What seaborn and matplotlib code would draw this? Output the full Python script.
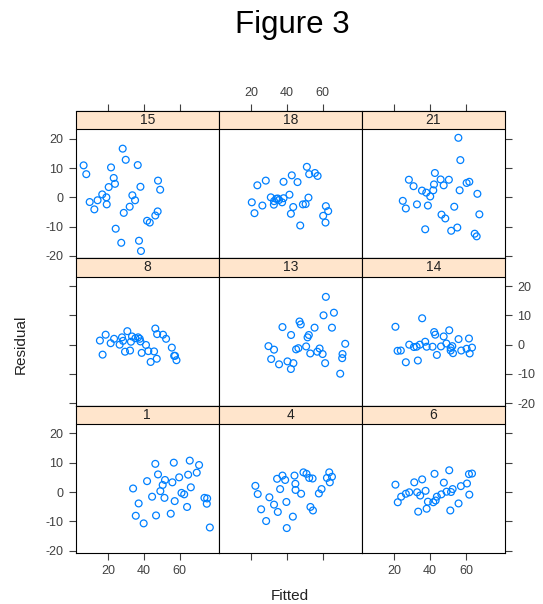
import pandas as pd
import numpy as np
import matplotlib
matplotlib.use("Agg")
import matplotlib.pyplot as plt
import seaborn as sns
from matplotlib.patches import Rectangle

# =======================
# Data
# =======================
fitted_15 = [28.2, 29.9, 6.4, 7.9, 21.7, 36.6, 23.2, 23.9, 20.4, 47.9, 49.1, 38.1, 16.8, 19.1, 33.6,
             35.1, 9.8, 14.2, 19.3, 12.4, 32.1, 28.8, 47.7, 46.4, 41.8, 43.3, 24.3, 27.4, 37.3, 38.4]
resid_15 = [16.6, 12.8, 10.9, 7.9, 10.2, 11.0, 6.6, 4.6, 3.5, 5.7, 2.6, 3.6, 1.0, 0.0, 0.7,
            -1.0, -1.6, -1.0, -2.4, -4.1, -3.2, -5.3, -4.8, -6.2, -8.0, -8.6, -10.7, -15.5, -14.8, -18.3]

fitted_18 = [51.1, 52.4, 55.6, 57.1, 42.7, 45.9, 38.1, 28.2, 23.5, 41.4, 52.0, 31.0, 34.0, 35.6, 32.8, 37.3,
             20.4, 26.3, 32.7, 43.5, 48.9, 50.4, 61.7, 63.0, 21.9, 42.2, 60.2, 61.5, 47.4, 38.1, 34.9]
resid_18 = [10.4, 7.9, 8.3, 7.3, 7.5, 5.2, 5.3, 5.7, 4.1, 0.9, -0.1, 0.0, -0.5, -0.9, -1.3, -1.7,
            -1.7, -2.8, -2.5, -3.3, -2.4, -2.3, -3.0, -4.7, -5.4, -5.6, -6.3, -8.6, -9.6, -0.3, -0.4]

fitted_21 = [55.8, 56.9, 42.7, 28.2, 45.9, 50.5, 30.8, 42.2, 47.6, 60.4, 61.9, 35.5, 37.9, 41.8, 56.5,
             66.4, 40.1, 24.8, 26.5, 32.7, 38.8, 53.5, 46.4, 48.5, 67.5, 37.3, 51.8, 55.2, 64.9, 66.0]
resid_21 = [20.3, 12.7, 8.3, 6.0, 6.1, 6.0, 3.8, 4.4, 4.1, 4.9, 5.3, 2.3, 1.6, 2.4, 2.4,
            1.2, 0.3, -1.2, -3.8, -2.4, -2.8, -3.2, -5.9, -7.2, -5.8, -10.9, -11.4, -10.3, -12.4, -13.3]

fitted_8 = [15.5, 18.7, 17.0, 21.5, 23.4, 26.5, 27.8, 28.4, 30.8, 29.5, 32.3, 32.8, 33.4, 35.3, 36.8, 37.7,
            38.1, 38.8, 41.2, 42.5, 43.8, 45.7, 47.2, 46.4, 47.4, 50.7, 52.4, 55.6, 56.9, 57.4, 58.2]
resid_8 = [1.4, 3.4, -3.4, 0.5, 2.0, 0.0, 2.5, 1.3, 4.6, -2.4, -2.0, 1.0, 2.8, 2.2, 2.5, 2.0,
           1.1, -2.8, -0.1, -2.2, -5.9, -2.3, -4.8, 5.5, 3.6, 3.4, 2.0, -1.0, -3.8, -3.8, -5.3]

fitted_13 = [61.7, 66.2, 60.4, 37.5, 47.0, 47.7, 55.4, 65.1, 42.3, 52.2, 51.5, 29.7, 32.8, 45.1, 46.4,
             50.7, 58.2, 56.9, 53.0, 59.9, 72.5, 71.0, 70.8, 31.2, 35.6, 40.3, 43.6, 42.2, 61.3, 69.7]
resid_13 = [16.3, 10.9, 10.0, 6.0, 7.9, 6.9, 5.8, 5.8, 3.3, 3.3, 2.5, -0.5, -1.7, -1.6, -1.2,
            -0.6, -1.3, -2.4, -3.0, -3.2, 0.3, -3.2, -4.6, -4.9, -6.7, -5.7, -6.3, -8.3, -6.3, -9.9]

fitted_14 = [20.7, 35.6, 42.3, 42.9, 50.7, 47.6, 37.3, 28.4, 31.0, 32.5, 34.3, 38.1, 41.4, 46.1, 49.1,
             51.5, 52.4, 52.8, 55.9, 57.4, 60.4, 61.7, 63.4, 62.1, 43.8, 33.2, 26.5, 21.9, 23.7, 51.5]
resid_14 = [6.1, 9.0, 4.3, 3.4, 4.9, 2.8, 1.0, 0.0, -0.8, -0.7, 0.0, -0.7, -0.7, -0.6, 0.4,
            -1.1, -0.5, -2.9, 1.9, -2.0, -1.4, 2.1, -1.0, -3.0, -3.5, -5.4, -6.0, -2.1, -2.0, -2.0]

fitted_1 = [46.4, 56.7, 65.6, 70.8, 47.9, 64.7, 69.5, 59.7, 51.8, 55.9, 41.8, 50.5, 34.0, 49.2, 61.0,
            62.5, 66.2, 44.6, 51.5, 57.2, 73.8, 75.3, 75.1, 37.1, 35.5, 46.8, 55.0, 64.1, 39.9, 76.8]
resid_1 = [9.6, 10.0, 10.7, 9.2, 6.0, 5.9, 6.6, 5.0, 4.1, 3.3, 3.7, 2.4, 1.2, 0.3, -0.3,
           -0.8, 1.6, -1.6, -2.0, -3.1, -2.0, -2.2, -4.0, -3.9, -8.1, -8.0, -7.4, -5.1, -10.7, -12.1]

fitted_4 = [63.6, 65.1, 62.3, 63.9, 49.2, 50.9, 52.4, 54.3, 44.2, 37.5, 34.5, 39.0, 44.7, 22.4, 36.2,
            44.8, 47.9, 23.7, 30.2, 59.3, 57.8, 32.8, 39.7, 25.6, 34.9, 53.1, 54.5, 43.3, 28.4, 39.9]
resid_4 = [6.7, 5.2, 4.8, 3.3, 6.7, 6.2, 4.8, 4.6, 5.6, 5.6, 4.5, 4.1, 2.8, 2.1, 1.0,
           0.7, -0.6, -0.7, -1.8, 1.0, -0.5, -4.3, -3.4, -5.9, -6.8, -5.1, -6.3, -8.4, -9.9, -12.3]

fitted_6 = [50.7, 42.5, 61.7, 63.4, 35.6, 31.2, 47.7, 20.7, 60.6, 57.2, 37.5, 52.6, 32.8, 34.5, 28.4,
            26.5, 23.9, 22.0, 49.2, 46.3, 43.8, 51.7, 38.8, 41.8, 43.1, 61.9, 55.9, 38.1, 33.4, 51.3]
resid_6 = [7.4, 6.2, 6.1, 6.3, 4.3, 3.3, 3.2, 2.5, 2.9, 2.0, 0.4, 1.0, -0.1, -1.2, -0.1,
           -0.6, -1.6, -3.5, 0.1, -0.8, -1.6, 0.0, -3.3, -3.5, -2.9, -0.9, -3.9, -5.7, -6.7, -6.3]

# panel order, top row first (lattice draws bottom-left first)
panel_order = [15, 18, 21, 8, 13, 14, 1, 4, 6]
x_ticks = [20, 40, 60]
y_ticks = [-20, -10, 0, 10, 20]

series = {
    15: (fitted_15, resid_15), 18: (fitted_18, resid_18), 21: (fitted_21, resid_21),
    8: (fitted_8, resid_8), 13: (fitted_13, resid_13), 14: (fitted_14, resid_14),
    1: (fitted_1, resid_1), 4: (fitted_4, resid_4), 6: (fitted_6, resid_6),
}
df = pd.concat(
    [pd.DataFrame({"Subject": k, "Fitted": v[0], "Residual": v[1]}) for k, v in series.items()],
    ignore_index=True,
)

# =======================
# Layout
# =======================
sns.set_style("white")
plt.rcParams["font.family"] = ["Liberation Sans", "DejaVu Sans"]
plt.rcParams["axes.unicode_minus"] = False

W, H = 543, 604
fig, axes = plt.subplots(3, 3, figsize=(W / 100, H / 100), dpi=100)

left_px, right_px = 75.7, 505.0
top_px, bottom_px = 111.0, 553.0
strip_px = 18.3
row_px = (bottom_px - top_px) / 3
panel_px = row_px - strip_px

fig.subplots_adjust(
    left=left_px / W, right=right_px / W,
    top=1 - (top_px + strip_px) / H, bottom=1 - bottom_px / H,
    wspace=0, hspace=strip_px / panel_px,
)

strip_h = strip_px / panel_px
tick_col = "#404040"
pt_color = "#0080ff"

for i, subj in enumerate(panel_order):
    r, c = divmod(i, 3)
    ax = axes[r, c]
    sub = df[df["Subject"] == subj]
    sns.scatterplot(data=sub, x="Fitted", y="Residual", ax=ax, marker="o", s=24,
                    facecolors="none", edgecolor=pt_color, linewidth=0.9, legend=False)
    ax.set_xlim(2.0, 81.8)
    ax.set_ylim(-20.8, 23.2)
    ax.set_xticks(x_ticks)
    ax.set_yticks(y_ticks)
    ax.set_xlabel("")
    ax.set_ylabel("")
    for sp in ax.spines.values():
        sp.set_visible(True)
        sp.set_color("black")
        sp.set_linewidth(0.8)
    # top axis sits above the strip
    ax.spines["top"].set_position(("outward", strip_px * 0.72))
    ax.tick_params(
        direction="out", length=5, width=0.8, color=tick_col, labelcolor=tick_col,
        labelsize=9, pad=4,
        left=(c == 0), labelleft=(c == 0 and r != 1),
        right=(c == 2), labelright=(c == 2 and r == 1),
        top=(r == 0), labeltop=(r == 0 and c == 1),
        bottom=(r == 2), labelbottom=(r == 2 and c != 1),
    )
    # strip
    ax.add_patch(Rectangle((0, 1), 1, strip_h, transform=ax.transAxes,
                           facecolor="#ffe5cc", edgecolor="black", linewidth=0.8,
                           clip_on=False, zorder=5))
    ax.text(0.5, 1 + strip_h / 2, str(subj), transform=ax.transAxes,
            ha="center", va="center", fontsize=10, color="#222222", zorder=6)

fig.text(292 / W, 1 - 25 / H, "Figure 3", ha="center", va="center",
         fontsize=22.5, color="black")
fig.text(21 / W, 1 - 344 / H, "Residual", ha="center", va="center",
         rotation=90, fontsize=11, color="#222222")
fig.text(290 / W, 1 - 596 / H, "Fitted", ha="center", va="center",
         fontsize=11, color="#222222")

fig.savefig("out.png", dpi=100)
